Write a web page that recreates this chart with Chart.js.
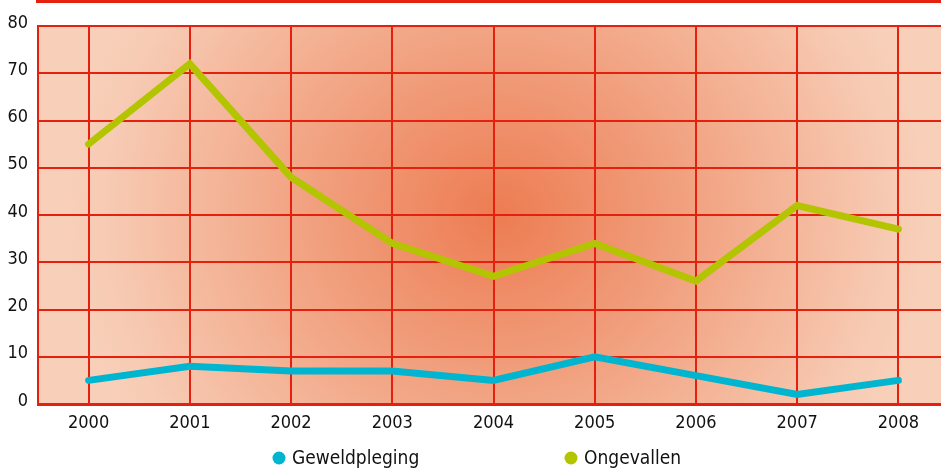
<!DOCTYPE html>
<html>
<head>
<meta charset="utf-8">
<script src="https://cdn.jsdelivr.net/npm/chart.js@4.4.1/dist/chart.umd.min.js"></script>
<style>
  html, body { margin: 0; padding: 0; background: #fff; overflow: hidden; }
  #wrap { width: 941px; height: 468px; overflow: hidden; position: relative; }
  #grafiek { display: block; }
</style>
</head>
<body>
<div id="wrap"><canvas id="grafiek" width="949" height="468"></canvas></div>
<script>
const jaren = ["2000","2001","2002","2003","2004","2005","2006","2007","2008"];
const geweldpleging = [5, 8, 7, 7, 5, 10, 6, 2, 5];
const ongevallen = [55, 72, 48, 34, 27, 34, 26, 42, 37];
const yTicks = [0, 10, 20, 30, 40, 50, 60, 70, 80];

const rood = "#e6200e";
const lettertype = "'Liberation Sans Narrow', 'DejaVu Sans Condensed', sans-serif";

// achtergrond met radiaal verloop + rode balk bovenaan
const achtergrond = {
    id: "achtergrond",
    beforeDraw(chart){
        const ctx = chart.ctx;
        const a = chart.chartArea;
        ctx.save();
        ctx.fillStyle = rood;
        ctx.fillRect(36, 0, chart.width, 3);
        const cx = a.left + (a.right - a.left) * 0.505;
        const cy = a.top + (a.bottom - a.top) * 0.5;
        // iets elliptisch: breder dan hoog
        ctx.translate(cx, cy);
        ctx.scale(1.1, 1);
        const g = ctx.createRadialGradient(0, 0, 0, 0, 0, 400);
        g.addColorStop(0, "#ed7c52");
        g.addColorStop(0.35, "#f09a77");
        g.addColorStop(0.65, "#f4b598");
        g.addColorStop(0.9, "#f7cbb4");
        g.addColorStop(1, "#f8d0ba");
        ctx.fillStyle = g;
        ctx.fillRect((a.left - cx) / 1.1, a.top - cy, (a.right - a.left) / 1.1, a.bottom - a.top);
        ctx.restore();
    }
};

// legenda onderaan
const legenda = {
    id: "legenda",
    afterDraw(chart){
        const ctx = chart.ctx;
        const posities = [279, 571];
        ctx.save();
        ctx.font = "19px " + lettertype;
        ctx.textBaseline = "middle";
        chart.data.datasets.forEach(function(ds, i){
            const x = posities[i];
            const y = 458;
            ctx.fillStyle = ds.borderColor;
            ctx.beginPath();
            ctx.arc(x, y, 6.5, 0, Math.PI * 2);
            ctx.fill();
            ctx.fillStyle = "#111";
            ctx.fillText(ds.label, x + 13, y + 1);
        });
        ctx.restore();
    }
};

const ctx = document.getElementById("grafiek").getContext("2d");
const grafiek = new Chart(ctx, {
    type: "line",
    data: {
        labels: jaren,
        datasets: [{
            label: "Geweldpleging",
            data: geweldpleging,
            borderColor: "#00b5cf",
            borderWidth: 7,
            pointRadius: 0,
            borderCapStyle: "round",
            borderJoinStyle: "miter",
            tension: 0
        },{
            label: "Ongevallen",
            data: ongevallen,
            borderColor: "#b3c400",
            borderWidth: 7,
            pointRadius: 0,
            borderCapStyle: "round",
            borderJoinStyle: "miter",
            tension: 0
        }]
    },
    options: {
        responsive: false,
        animation: false,
        layout: { padding: { top: 26, left: 0, right: 0, bottom: 0 } },
        scales: {
            x: {
                offset: true,
                grid: { offset: false, color: rood, lineWidth: 2, drawTicks: false },
                border: { color: rood, width: 3 },
                ticks: {
                    color: "#111",
                    font: { family: lettertype, size: 18 },
                    padding: 9,
                    maxRotation: 0
                },
                afterFit(scale){ scale.height = 64; }
            },
            y: {
                min: 0,
                max: 80,
                afterBuildTicks(scale){ scale.ticks = yTicks.map(v => ({ value: v })); },
                grid: { color: rood, lineWidth: 2, drawTicks: false },
                border: { color: rood, width: 2 },
                ticks: {
                    color: "#111",
                    font: { family: lettertype, size: 18 },
                    padding: 10,
                    labelOffset: -3
                },
                afterFit(scale){ scale.width = 38; }
            }
        },
        plugins: {
            legend: { display: false },
            tooltip: { enabled: false }
        }
    },
    plugins: [achtergrond, legenda]
});
</script>
</body>
</html>
